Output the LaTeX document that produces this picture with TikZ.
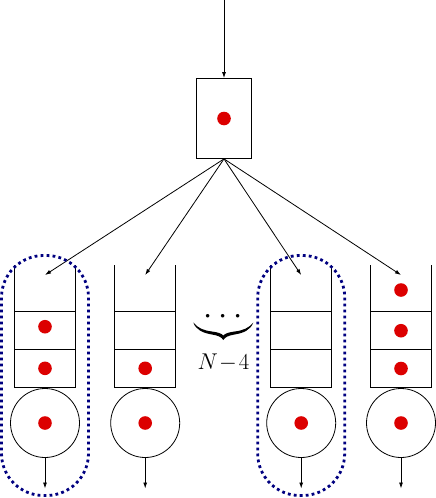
\documentclass[tikz,border=0pt]{standalone}
\usepackage{amsmath}
\usepackage{graphicx}
\usetikzlibrary{arrows.meta}
\definecolor{qred}{RGB}{220,0,0}
\definecolor{navyd}{RGB}{0,0,128}
\newcommand{\bigdot}{\scalebox{1.6}{$\cdot$}}
\begin{document}
\begin{tikzpicture}[x=1pt,y=-1pt,
  line width=0.8pt,
  arr/.style={-{Latex[length=6pt,width=4pt]}},
  job/.style={circle,fill=qred,inner sep=0,minimum size=13.6pt},
  server/.style={circle,draw,minimum size=69pt,inner sep=0},
  grp/.style={draw=navyd,line width=2.8pt,dash pattern=on 2.8pt off 3.2pt,rounded corners=42pt},
  lbl/.style={inner sep=0,font=\huge}]
\useasboundingbox (0,0) rectangle (436,498);
% dispatcher
\coordinate (src) at (224,0);
\node[draw,minimum width=55pt,minimum height=80pt,inner sep=0] (disp) at (224,118.5) {};
\node[job] (dj) at (disp.center) {};
\draw[arr] (src) -- (disp.north);
% queues
\foreach \cx/\i in {45/1,145.2/2,301.2/3,401/4}{
  \draw (\cx-30.5,265) -- (\cx-30.5,387) -- (\cx+30.5,387) -- (\cx+30.5,265);
  \draw (\cx-30.5,311.7) -- (\cx+30.5,311.7);
  \draw (\cx-30.5,349.3) -- (\cx+30.5,349.3);
  \coordinate (in\i) at (\cx,275);
  \node[server] (s\i) at (\cx,423) {};
  \node[job] (sj\i) at (s\i.center) {};
  \coordinate (out\i) at (\cx,488.5);
  \draw[arr] (s\i.south) -- (out\i);
  \draw[arr] (disp.south) -- (in\i);
}
% jobs waiting
\node[job] (a2) at (45,326.7) {};
\node[job] (a3) at (45,368.3) {};
\node[job] (b3) at (145.2,368.3) {};
\node[job] (d1) at (401,290) {};
\node[job] (d2) at (401,330.7) {};
\node[job] (d3) at (401,368.5) {};
% groups
\draw[grp] (1.5,255.5) rectangle (88.5,495.5);
\draw[grp] (257.7,255.5) rectangle (344.7,495.5);
% brace
\node[lbl,anchor=center] (dots) at (223.3,317.5) {\bigdot\hspace{5.5pt}\bigdot\hspace{5.5pt}\bigdot};
\fill (193.3,322.5) .. controls (196,330) and (203,333) .. (212,334.5)
  .. controls (218,335.5) and (221.5,337) .. (223.3,340)
  .. controls (225.1,337) and (228.6,335.5) .. (234.6,334.5)
  .. controls (243.6,333) and (250.6,330) .. (253.3,322.5)
  .. controls (249,328) and (243,330.5) .. (234.6,331.5)
  .. controls (228.6,332.3) and (225,333.5) .. (223.3,335.5)
  .. controls (221.6,333.5) and (218,332.3) .. (212,331.5)
  .. controls (203.6,330.5) and (197.6,328) .. (193.3,322.5) -- cycle;
\node[lbl,anchor=base] (nm) at (223.5,369) {\scalebox{1.1}{$N\mkern1mu{-}\mkern1.5mu 4$}};
\end{tikzpicture}
\end{document}
